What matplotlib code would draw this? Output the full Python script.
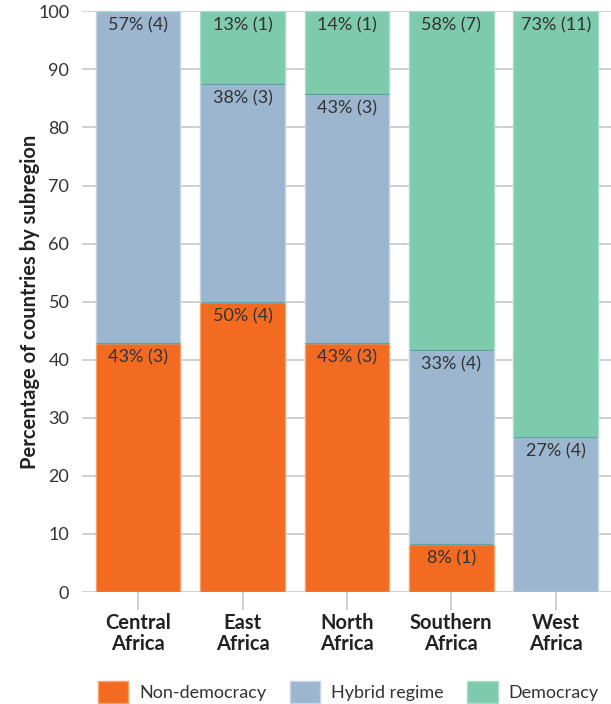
import matplotlib
matplotlib.use("Agg")
import matplotlib.pyplot as plt
from matplotlib.patches import Patch
import numpy as np

plt.rcParams['font.family'] = ['Lato', 'DejaVu Sans']

categories = ["Central\nAfrica", "East\nAfrica", "North\nAfrica", "Southern\nAfrica", "West\nAfrica"]
series_names = ["Non-democracy", "Hybrid regime", "Democracy"]
counts_non = [3, 4, 3, 1, 0]
counts_hybrid = [4, 3, 3, 4, 4]
counts_dem = [0, 1, 1, 7, 11]
colors = ["#F26B21", "#9DB6D0", "#7DCAAD"]
edge_colors = ["#F7A06E", "#C5D4E4", "#A9DCC7"]

counts = np.array([counts_non, counts_hybrid, counts_dem], dtype=float)
totals = counts.sum(axis=0)
pct = counts / totals * 100

fig = plt.figure(figsize=(6.11, 7.04), dpi=100)
ax = fig.add_axes([0.134, 0.159, 0.866, 0.825])

x = np.arange(len(categories))
bottom = np.zeros(len(categories))
for i in range(3):
    ax.bar(x, pct[i], bottom=bottom, width=0.81, color=colors[i],
           edgecolor=edge_colors[i], linewidth=1.0, zorder=2)
    for j in range(len(categories)):
        if counts[i, j] > 0:
            top = bottom[j] + pct[i, j]
            label = f"{int(np.floor(pct[i, j] + 0.5))}% ({int(counts[i, j])})"
            ax.annotate(label, xy=(x[j], top),
                        xytext=(0, -4.5), textcoords="offset points", ha="center", va="top",
                        fontsize=13, color="#333333", zorder=4)
    bottom = bottom + pct[i]

# boundary lines between segments
cum = np.cumsum(pct, axis=0)
for i in range(2):
    for j in range(len(categories)):
        if counts[i + 1, j] > 0 and cum[i, j] > 0:
            ax.hlines(cum[i, j], x[j] - 0.4, x[j] + 0.4, color="#5E9FA6", linewidth=1.0, zorder=3)

ax.set_xlim(-0.54, 4.53)
ax.set_ylim(0, 100)
ax.set_yticks(np.arange(0, 101, 10))
ax.grid(axis="y", color="#C8C8C8", linewidth=1.2, zorder=0)
ax.set_axisbelow(True)
for s in ax.spines.values():
    s.set_visible(False)
ax.tick_params(axis="y", length=0, labelsize=13, labelcolor="#333333", pad=9)
ax.tick_params(axis="x", length=13, width=1.2, color="#C8C8C8", pad=2)
ax.set_xticks(x)
ax.set_xticklabels(categories, fontsize=14.5, fontweight="bold", color="#222222", linespacing=1.05)
ax.set_ylabel("Percentage of countries by subregion", fontsize=14.5, fontweight="bold",
              color="#222222", labelpad=-1)

handles = [Patch(facecolor=colors[i], edgecolor=edge_colors[i], label=series_names[i]) for i in range(3)]
fig.legend(handles=handles, loc="lower center", bbox_to_anchor=(0.57, -0.022), ncol=3,
           frameon=False, fontsize=13, handlelength=1.7, handleheight=1.5,
           columnspacing=1.3, handletextpad=0.6, labelcolor="#333333")

fig.savefig("out.png", dpi=100)
